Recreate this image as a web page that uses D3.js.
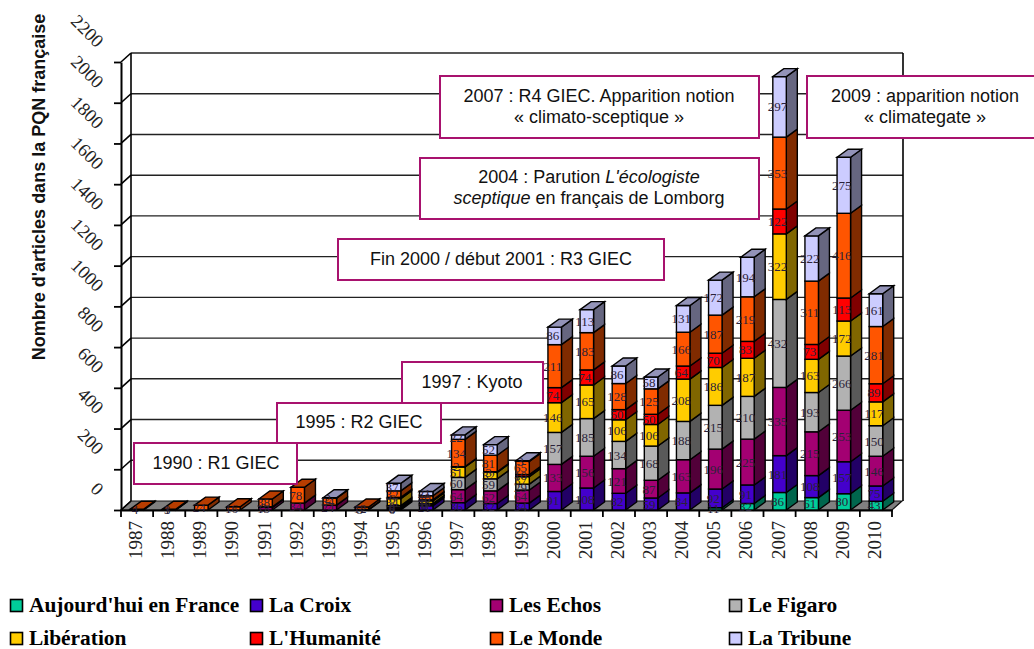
<!DOCTYPE html>
<html><head><meta charset="utf-8">
<script src="https://cdn.jsdelivr.net/npm/d3@7"></script>
<style>html,body{margin:0;padding:0;background:#fff;overflow:hidden}svg{display:block}</style></head>
<body><svg id="c" width="1034" height="649"></svg>
<script>
const years = [1987,1988,1989,1990,1991,1992,1993,1994,1995,1996,1997,1998,1999,2000,2001,2002,2003,2004,2005,2006,2007,2008,2009,2010];
const aujourdhui = [0,0,0,0,0,0,0,0,0,0,0,0,0,0,0,0,0,0,11,32,86,61,80,43];
const laCroix    = [0,1,0,0,0,0,0,0,6,21,36,32,34,91,108,82,59,84,92,91,181,108,157,75];
const lesEchos   = [0,0,0,0,13,34,24,3,8,8,64,62,64,133,156,121,87,163,196,225,335,215,253,146];
const leFigaro   = [0,0,0,0,3,0,0,0,8,3,60,59,29,157,185,134,168,188,215,210,432,193,266,150];
const liberation = [0,0,0,0,0,0,0,0,34,13,51,32,37,146,165,106,106,208,186,187,322,163,172,117];
const humanite   = [0,0,0,0,0,0,0,0,6,5,2,3,10,74,74,50,50,64,70,83,122,73,113,89];
const leMonde    = [4,3,24,16,38,78,34,12,32,20,134,81,65,211,183,128,125,166,187,219,353,311,416,281];
const laTribune  = [0,0,0,0,0,0,2,0,37,21,22,52,3,86,113,86,58,131,172,194,297,222,275,161];
const seriesNames = ["Aujourd'hui en France","La Croix","Les Echos","Le Figaro","Libération","L'Humanité","Le Monde","La Tribune"];
const seriesColors = ["#00cc99","#4400cc","#a30072","#b2b2b2","#ffcc00","#ff0000","#ff5500","#ccccff"];
const yTicks = d3.range(0,2201,200);
const seriesValues = [aujourdhui,laCroix,lesEchos,leFigaro,liberation,humanite,leMonde,laTribune];

const svg = d3.select("#c");
const y = d3.scaleLinear().domain([0,2200]).range([510,62]);
const x = d3.scaleBand().domain(years).range([121,892]).paddingInner(0.58).paddingOuter(0.29);
const step = x.step();
const DX = 10, DY = 9, BDX = 11, BDY = 8;
const xL = 121, xR = 892;

// floor
svg.append("polygon").attr("points",[[xL,510],[xL+DX,510-DY],[xR+DX,510-DY],[xR,510]].join(" "))
  .attr("fill","#808080").attr("stroke","#111").attr("stroke-width",1.2);
// back wall
const wall = svg.append("g").attr("stroke","#222").attr("fill","none");
wall.selectAll("line.g").data(yTicks.slice(1)).join("line").attr("class","g")
  .attr("x1",xL+DX).attr("x2",xR+DX+1).attr("y1",d=>y(d)-DY).attr("y2",d=>y(d)-DY).attr("stroke-width",1.4);
wall.selectAll("line.d").data(yTicks).join("line").attr("class","d")
  .attr("x1",xL).attr("x2",xL+DX).attr("y1",d=>y(d)).attr("y2",d=>y(d)-DY).attr("stroke","#000").attr("stroke-width",1.6);
wall.append("line").attr("x1",xL+DX).attr("x2",xL+DX).attr("y1",y(2200)-DY).attr("y2",510-DY).attr("stroke","#000").attr("stroke-width",1.6);
wall.append("line").attr("x1",xR+DX+1).attr("x2",xR+DX+1).attr("y1",y(2200)-DY).attr("y2",510-DY).attr("stroke","#000").attr("stroke-width",1.6);

// y axis
const axY = svg.append("g").attr("transform",`translate(${xL},0)`)
  .call(d3.axisLeft(y).tickValues(yTicks).tickSize(7).tickSizeOuter(0).tickFormat(d3.format("d")));
axY.select(".domain").attr("stroke","#000").attr("stroke-width",2);
axY.selectAll(".tick line").attr("stroke","#000").attr("stroke-width",1.8);
axY.selectAll(".tick text").attr("x",0).attr("y",0).attr("dy",0).attr("text-anchor","end")
  .attr("transform","translate(-25,-14) rotate(45)")
  .attr("font-family","'Liberation Serif',serif").attr("font-size",18.5).attr("fill","#222");

// x axis
const axX = svg.append("g").attr("transform","translate(0,510)")
  .call(d3.axisBottom(x).tickSize(0).tickSizeOuter(0));
axX.select(".domain").attr("stroke","#000").attr("stroke-width",2);
axX.selectAll(".tick text").attr("x",0).attr("y",0).attr("dy",0).attr("text-anchor","end")
  .attr("transform","translate(5,11) rotate(-90)")
  .attr("font-family","'Liberation Serif',serif").attr("font-size",19).attr("fill","#222");
axX.selectAll("line.b").data(d3.range(0,25)).join("line").attr("class","b")
  .attr("x1",i=>xL+i*step).attr("x2",i=>xL+i*step).attr("y1",0).attr("y2",7)
  .attr("stroke","#000").attr("stroke-width",1.8);

// bars
const table = years.map((yr,i)=>{const o={year:yr};seriesValues.forEach((s,k)=>o[k]=s[i]);return o;});
const stacked = d3.stack().keys(d3.range(seriesValues.length))(table);
const w = x.bandwidth();
const bars = svg.append("g").attr("stroke","#000").attr("stroke-width",1.4).attr("stroke-linejoin","miter");
const labels = [];
years.forEach((yr,i)=>{
  const g = bars.append("g");
  const x0 = x(yr), x1 = x0 + w;
  let lastK = -1;
  stacked.forEach((layer,k)=>{
    const [a,b] = layer[i];
    if (b<=a) return;
    lastK = k;
    const c = d3.color(seriesColors[k]);
    const dark = d3.rgb(c.r*0.5,c.g*0.5,c.b*0.5);
    g.append("polygon").attr("points",[[x1,y(a)],[x1+BDX,y(a)-BDY],[x1+BDX,y(b)-BDY],[x1,y(b)]].join(" ")).attr("fill",dark);
    g.append("rect").attr("x",x0).attr("y",y(b)).attr("width",w).attr("height",y(a)-y(b)).attr("fill",seriesColors[k]);
    labels.push({x:x0+w/2-2,y:(y(a)+y(b))/2,v:b-a});
  });
  if (lastK>=0){
    const top = stacked[lastK][i][1];
    const c = d3.color(seriesColors[lastK]);
    const t = d3.rgb(c.r*0.72,c.g*0.72,c.b*0.72);
    g.append("polygon").attr("points",[[x0,y(top)],[x0+BDX,y(top)-BDY],[x1+BDX,y(top)-BDY],[x1,y(top)]].join(" ")).attr("fill",t);
  }
});
svg.append("g").selectAll("text").data(labels).join("text")
  .attr("x",d=>d.x).attr("y",d=>d.y).attr("dy","0.35em").attr("text-anchor","middle")
  .attr("font-family","'Liberation Serif',serif").attr("font-size",13).attr("fill","#2a2238")
  .text(d=>d.v);

// annotations
const notes = [
  {x:440,y:76,w:319,h:62,cx:599,lines:[["2007 : R4 GIEC. Apparition notion"],["« climato-sceptique »"]]},
  {x:807,y:76,w:232,h:62,cx:925,lines:[["2009 : apparition notion"],["« climategate »"]]},
  {x:420,y:158,w:339,h:61,cx:589,lines:[["2004 : Parution ",["L'écologiste"]],[["sceptique"]," en français de Lomborg"]]},
  {x:338,y:239,w:326,h:41,cx:501,lines:[["Fin 2000 / début 2001 : R3 GIEC"]]},
  {x:402,y:362,w:141,h:41,cx:472,lines:[["1997 : Kyoto"]]},
  {x:277,y:403,w:164,h:40,cx:359,lines:[["1995 : R2 GIEC"]]},
  {x:134,y:443,w:163,h:41,cx:216,lines:[["1990 : R1 GIEC"]]}
];
notes.forEach(n=>{
  svg.append("rect").attr("x",n.x).attr("y",n.y).attr("width",n.w).attr("height",n.h)
    .attr("fill","#fff").attr("stroke","#a8126e").attr("stroke-width",2);
  const lh = 21, y0 = n.y + n.h/2 - (n.lines.length-1)*lh/2 + 5;
  n.lines.forEach((ln,i)=>{
    const t = svg.append("text").attr("x",n.cx).attr("y",y0+i*lh).attr("text-anchor","middle")
      .attr("font-family","'Liberation Sans',Arial,sans-serif").attr("font-size",18).attr("fill","#111");
    ln.forEach(p=>{
      const it = Array.isArray(p);
      t.append("tspan").attr("font-style",it?"italic":"normal").text(it?p[0]:p);
    });
  });
});

// y title
svg.append("text").attr("transform","translate(45,187) rotate(-90)").attr("text-anchor","middle")
  .attr("font-family","'Liberation Sans',Arial,sans-serif").attr("font-weight","bold").attr("font-size",18).attr("fill","#111")
  .text("Nombre d'articles dans la PQN française");

// legend
const legX = [10,250,490,729], legY = [599,632];
seriesNames.forEach((name,k)=>{
  const cx = legX[k%4], cy = legY[Math.floor(k/4)];
  svg.append("rect").attr("x",cx+0.5).attr("y",cy+0.5).attr("width",12).attr("height",12)
    .attr("fill",seriesColors[k]).attr("stroke","#000").attr("stroke-width",1.6);
  svg.append("text").attr("x",cx+19).attr("y",cy+12.5).attr("font-family","'Liberation Serif',serif")
    .attr("font-weight","bold").attr("font-size",21.4).attr("fill","#000").text(name);
});
</script></body></html>
